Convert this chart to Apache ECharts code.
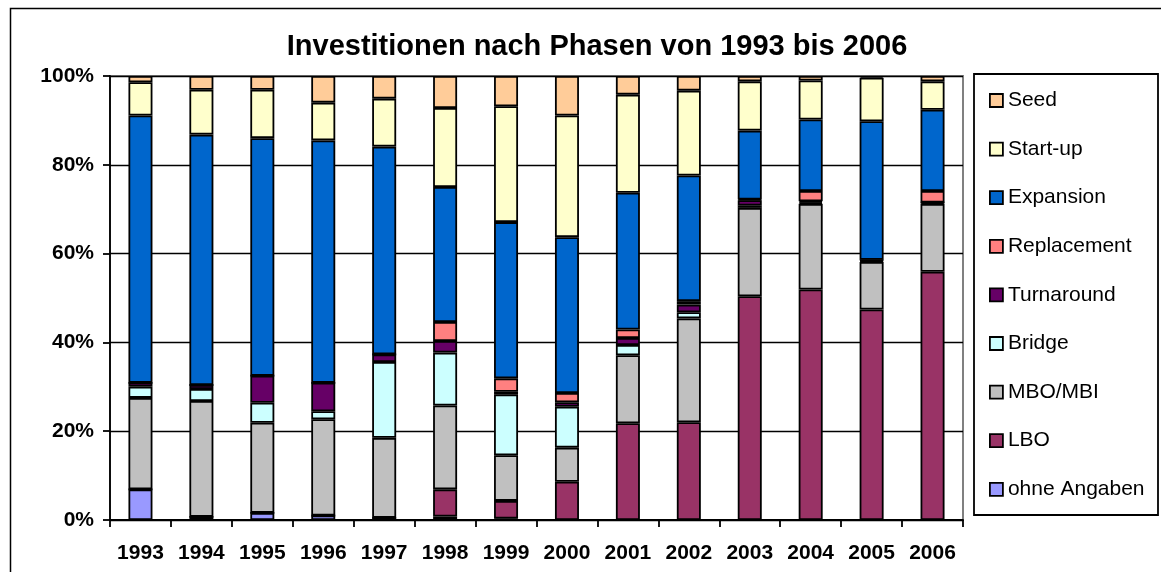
<!DOCTYPE html>
<html>
<head>
<meta charset="UTF-8">
<title>Investitionen nach Phasen</title>
<script src="https://cdn.jsdelivr.net/npm/echarts@6/dist/echarts.min.js"></script>
<style>
  html, body { margin: 0; padding: 0; background: #fff; }
  #main { width: 1161px; height: 572px; }
</style>
</head>
<body>
<div id="main"></div>
<script type="text/javascript">
// Jahre
var years = ['1993', '1994', '1995', '1996', '1997', '1998', '1999', '2000', '2001', '2002', '2003', '2004', '2005', '2006'];

// Anteile in Prozent je Phase (von unten nach oben gestapelt)
var ohneAngaben = [6.9, 0.7, 1.6, 1.0, 0.5, 0.8, 0.3, 0, 0, 0, 0, 0, 0, 0];
var lbo         = [0, 0, 0, 0, 0, 6.1, 4.0, 8.6, 21.8, 22.0, 50.4, 51.9, 47.4, 55.9];
var mboMbi      = [20.6, 26.1, 20.3, 21.7, 18.0, 18.9, 10.3, 7.7, 15.3, 23.4, 19.9, 19.3, 10.7, 15.3];
var bridge      = [2.5, 2.7, 4.5, 1.8, 17.1, 11.9, 13.7, 9.2, 2.3, 1.4, 0.5, 0.3, 0.2, 0.3];
var turnaround  = [0.9, 0.9, 6.1, 6.4, 1.7, 2.6, 0.6, 1.0, 1.6, 1.7, 1.2, 0.3, 0.2, 0];
var replacement = [0, 0, 0, 0, 0, 4.3, 3.0, 2.1, 1.9, 0.8, 0.2, 2.3, 0.1, 2.6];
var expansion   = [60.2, 56.4, 53.5, 54.6, 46.8, 30.4, 35.2, 35.1, 30.8, 28.3, 15.5, 16.1, 31.2, 18.3];
var startUp     = [7.5, 10.1, 10.9, 8.5, 10.8, 17.8, 26.1, 27.4, 22.1, 19.1, 11.1, 8.8, 9.8, 6.4];
var seed        = [1.4, 3.1, 3.1, 6.0, 5.1, 7.2, 6.8, 8.9, 4.2, 3.3, 1.2, 1.0, 0.4, 1.2];

// Achsenbeschriftung
var yTicks = [0, 20, 40, 60, 80, 100];

var phases = [
  { name: 'ohne Angaben', data: ohneAngaben, color: '#9999FF' },
  { name: 'LBO',          data: lbo,         color: '#993366' },
  { name: 'MBO/MBI',      data: mboMbi,      color: '#C0C0C0' },
  { name: 'Bridge',       data: bridge,      color: '#CCFFFF' },
  { name: 'Turnaround',   data: turnaround,  color: '#660066' },
  { name: 'Replacement',  data: replacement, color: '#FF8080' },
  { name: 'Expansion',    data: expansion,   color: '#0066CC' },
  { name: 'Start-up',     data: startUp,     color: '#FFFFCC' },
  { name: 'Seed',         data: seed,        color: '#FFCC99' }
];

var font = '"Liberation Sans", Arial, sans-serif';

var myChart = echarts.init(document.getElementById('main'));

var series = phases.map(function (p) {
  return {
    name: p.name,
    type: 'bar',
    stack: 'gesamt',
    barWidth: 24,
    data: p.data,
    itemStyle: { color: p.color, borderColor: '#000', borderWidth: 1.8 },
    emphasis: { disabled: true }
  };
});

myChart.setOption({
  backgroundColor: '#fff',
  animation: false,
  textStyle: { fontFamily: font },
  title: {
    text: 'Investitionen nach Phasen von 1993 bis 2006',
    left: 592,
    top: 27,
    textAlign: 'center',
    textStyle: { fontSize: 29, fontWeight: 'bold', color: '#000', fontFamily: font }
  },
  legend: {
    orient: 'vertical',
    left: 989,
    top: 90,
    padding: 0,
    itemWidth: 13,
    itemHeight: 13,
    itemGap: 27.6,
    icon: 'rect',
    data: phases.map(function (p) { return p.name; }).reverse(),
    itemStyle: { borderColor: '#000', borderWidth: 1.8 },
    textStyle: { fontSize: 21, lineHeight: 20, color: '#000', fontFamily: font },
    selectedMode: false
  },
  graphic: [
    {
      type: 'rect',
      shape: { x: 10.5, y: 8.5, width: 1200, height: 600 },
      style: { fill: 'none', stroke: '#000', lineWidth: 1.5 },
      silent: true
    },
    {
      type: 'rect',
      shape: { x: 974, y: 74, width: 184, height: 441 },
      style: { fill: 'none', stroke: '#000', lineWidth: 1.8 },
      silent: true
    }
  ],
  grid: {
    left: 110,
    right: 198,
    top: 76,
    bottom: 52,
    show: true,
    borderColor: '#808080',
    borderWidth: 2,
    backgroundColor: '#fff'
  },
  xAxis: {
    type: 'category',
    data: years,
    axisLine: { lineStyle: { color: '#000', width: 1.8 } },
    axisTick: { show: true, alignWithLabel: false, length: 7, lineStyle: { color: '#000', width: 1.8 } },
    axisLabel: { fontSize: 21, fontWeight: 'bold', color: '#000', margin: 23, fontFamily: font }
  },
  yAxis: {
    type: 'value',
    min: yTicks[0],
    max: yTicks[yTicks.length - 1],
    interval: 20,
    axisLine: { show: true, lineStyle: { color: '#000', width: 1.8 } },
    axisTick: { show: true, length: 7, lineStyle: { color: '#000', width: 1.8 } },
    splitLine: { lineStyle: { color: '#000', width: 1.3 } },
    axisLabel: { fontSize: 21, fontWeight: 'bold', color: '#000', margin: 16, fontFamily: font, formatter: '{value}%' }
  },
  series: series
});
</script>
</body>
</html>
